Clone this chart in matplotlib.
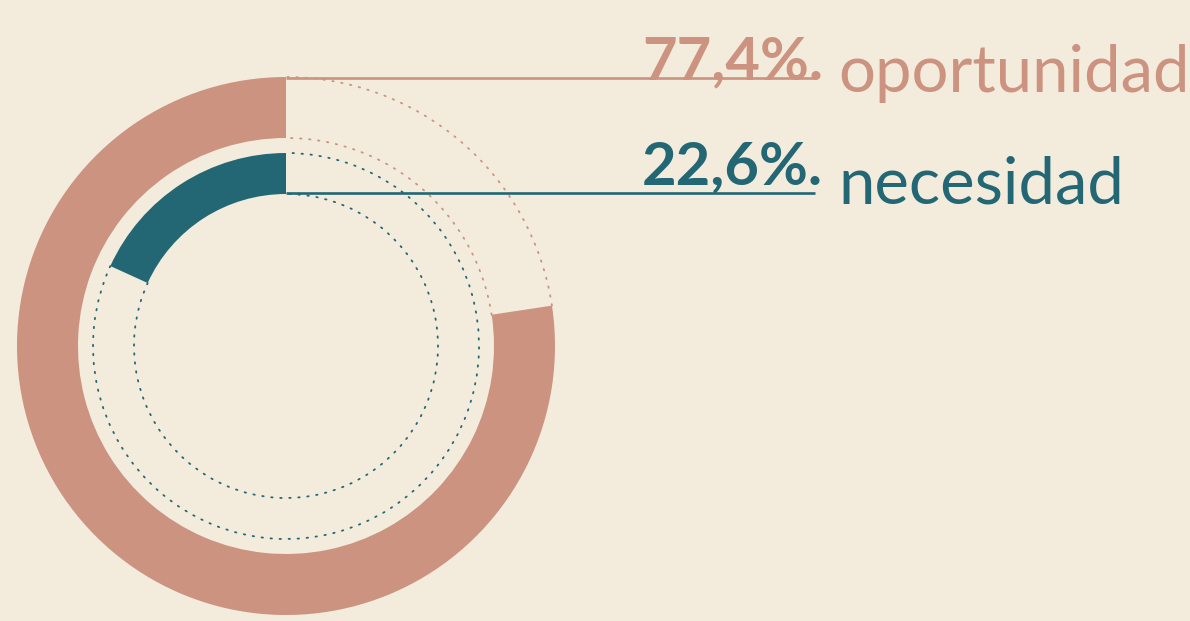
import numpy as np
import matplotlib
matplotlib.use("Agg")
import matplotlib.pyplot as plt
from matplotlib.patches import Wedge, Arc

# ---- data ----
categories = ["oportunidad", "necesidad"]
values = [77.4, 22.6]                 # percentages shown in labels
arc_share = [77.4, 18.2]              # share of full circle covered by each visible arc
value_labels = ["77,4%.", "22,6%."]

# ---- style ----
BG = "#F3ECDC"
SALMON = "#CC9381"
TEAL = "#236775"
colors = [SALMON, TEAL]

W, H = 1190, 621
fig = plt.figure(figsize=(W / 100, H / 100), dpi=100)
fig.patch.set_facecolor(BG)
ax = fig.add_axes([0, 0, 1, 1])
ax.set_facecolor(BG)
ax.set_xlim(0, W)
ax.set_ylim(0, H)
ax.set_aspect("equal")
ax.axis("off")

cx, cy = 286, H - 346
rings = [(269, 61), (193, 41)]  # (outer radius, width)

for (r, w), share, col in zip(rings, arc_share, colors):
    sweep = share / 100 * 360
    ax.add_patch(Wedge((cx, cy), r, 90, 90 + sweep, width=w, facecolor=col,
                       edgecolor="none", antialiased=True))
    # dotted guide for the remaining portion of the ring (both edges)
    for rr in (r, r - w):
        arc = Arc((cx, cy), 2 * rr, 2 * rr, theta1=90 + sweep, theta2=450,
                  edgecolor=col, lw=1.3, linestyle=(0, (0.8, 4.2)))
        arc.set_capstyle("round")
        ax.add_patch(arc)

# leader lines
line_y = [H - 78, H - 193]
for ly, col in zip(line_y, colors):
    ax.plot([cx, 815], [ly, ly], color=col, lw=1.9, solid_capstyle="butt")

# labels
num_base = [H - 79, H - 184]
word_base = [H - 92, H - 203]
for lab, cat, nb, wb, col in zip(value_labels, categories, num_base, word_base, colors):
    ax.text(823, nb, lab, color=col, fontsize=43, fontweight="bold",
            family=["Lato", "DejaVu Sans"], ha="right", va="baseline")
    ax.text(838, wb, cat, color=col, fontsize=47, fontweight="normal",
            family=["Lato", "DejaVu Sans"], ha="left", va="baseline")

fig.savefig("out.png", dpi=100, facecolor=BG)
